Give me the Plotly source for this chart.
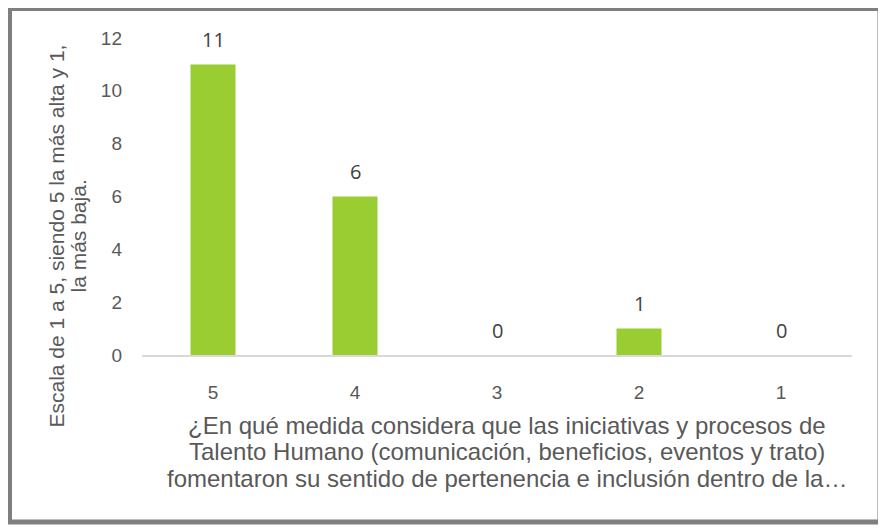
import plotly.graph_objects as go

categories = ["5", "4", "3", "2", "1"]
values = [11, 6, 0, 1, 0]
y_ticks = [0, 2, 4, 6, 8, 10, 12]

y_title_lines = [
    "Escala de 1 a 5, siendo 5 la más alta y 1,",
    "la más baja.",
]
x_title_lines = [
    "¿En qué medida considera que las iniciativas y procesos de",
    "Talento Humano (comunicación, beneficios, eventos y trato)",
    "fomentaron su sentido de pertenencia e inclusión dentro de la…",
]

# page body has an 8px margin; figure fills the rest of the 886x529 window
OFF = 8
W, H = 886 - OFF, 529 - OFF
L, R, T, B = 142 - OFF, 886 - 852, 38 - OFF, 529 - 355
pw, ph = W - L - R, H - T - B


def px_x(px):
    return (px - OFF - L) / pw


def px_y(py):
    return (H - B - (py - OFF)) / ph


text_color = "#595959"
sans = "Liberation Sans, Arial, sans-serif"

fig = go.Figure()
fig.add_trace(go.Bar(
    x=categories, y=values,
    marker=dict(color="#9ACD32", line=dict(width=0)),
    hoverinfo="x+y",
))

annotations = []
for i, v in enumerate(values):
    annotations.append(dict(
        x=i, y=v, xref="x", yref="y", text=str(v), showarrow=False,
        yanchor="middle", xanchor="center", yshift=25,
        font=dict(family="Open Sans, Lato, sans-serif", size=20, color="#404040"),
    ))

for i, line in enumerate(y_title_lines):
    annotations.append(dict(
        x=px_x(55.5 + 22 * i), y=px_y(236),
        xref="paper", yref="paper", text=line,
        showarrow=False, textangle=-90, xanchor="center", yanchor="middle",
        font=dict(family=sans, size=21, color=text_color),
    ))

for i, line in enumerate(x_title_lines):
    annotations.append(dict(
        x=px_x(507), y=px_y(425 + 26.5 * i), xref="paper", yref="paper", text=line,
        showarrow=False, xanchor="center", yanchor="middle",
        font=dict(family=sans, size=24, color=text_color),
    ))

shapes = [dict(
    type="rect", xref="paper", yref="paper",
    x0=px_x(9.5), x1=px_x(880), y0=px_y(8.5), y1=px_y(522),
    line=dict(color="#7f7f7f", width=5), fillcolor="rgba(0,0,0,0)", layer="above",
)]

fig.update_layout(
    width=W, height=H,
    margin=dict(l=L, r=R, t=T, b=B),
    paper_bgcolor="white", plot_bgcolor="white",
    bargap=0.683,
    showlegend=False,
    annotations=annotations,
    shapes=shapes,
    xaxis=dict(
        type="category", showgrid=False, zeroline=False,
        showline=True, linecolor="#d9d9d9", linewidth=1.5,
        ticks="", ticklabelstandoff=19,
        tickfont=dict(family=sans, size=19, color=text_color),
    ),
    yaxis=dict(
        range=[0, 12], tickvals=y_ticks, showgrid=False, zeroline=False,
        showline=False, ticks="", ticklabelstandoff=19,
        tickfont=dict(family=sans, size=19, color=text_color),
    ),
)

fig.write_html("out.html")
